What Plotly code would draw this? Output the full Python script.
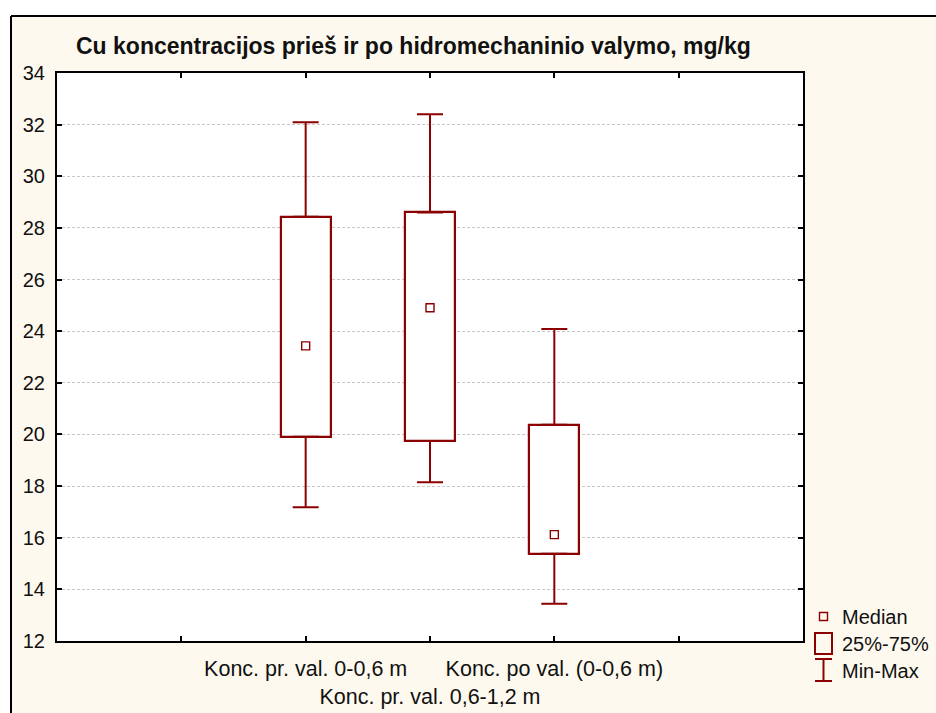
import plotly.graph_objects as go

# Summary statistics per sampling group (mg/kg)
categories = ["Konc. pr. val. 0-0,6 m", "Konc. pr. val. 0,6-1,2 m", "Konc. po val. (0-0,6 m)"]
positions = [2, 3, 4]
minimum = [17.18, 18.15, 13.44]
q1 = [19.91, 19.75, 15.38]
median = [23.43, 24.91, 16.12]
q3 = [28.43, 28.60, 20.38]
maximum = [32.09, 32.40, 24.08]

y_ticks = list(range(12, 35, 2))
x_ticks = [1, 2, 3, 4, 5]
x_ticktext = ["", categories[0], "<br>" + categories[1], categories[2], ""]
legend_labels = ["Median", "25%-75%", "Min-Max"]
title = "Cu koncentracijos prieš ir po hidromechaninio valymo, mg/kg"

RED = "#8B0000"
CREAM = "#FEF9EE"
FONT = "Liberation Sans, Arial, sans-serif"

W, H = 936, 713
ML, MR, MT, MB = 57, 133, 73, 72
PW, PH = W - ML - MR, H - MT - MB


def px_x(p):
    return (p - ML) / PW


def px_y(p):
    return (H - MB - p) / PH


fig = go.Figure()

# 25%-75% boxes
fig.add_trace(go.Bar(
    x=positions,
    y=[b - a for a, b in zip(q1, q3)],
    base=q1,
    width=0.4,
    marker=dict(color="white", line=dict(color=RED, width=2.2)),
    showlegend=False,
    hoverinfo="skip",
))

# upper whiskers (q3 -> max)
fig.add_trace(go.Scatter(
    x=positions, y=q3, mode="markers",
    marker=dict(size=1, color="rgba(0,0,0,0)"),
    error_y=dict(type="data", symmetric=False,
                 array=[m - q for m, q in zip(maximum, q3)],
                 arrayminus=[0, 0, 0],
                 color=RED, thickness=2, width=13),
    showlegend=False, hoverinfo="skip",
))

# lower whiskers (min -> q1)
fig.add_trace(go.Scatter(
    x=positions, y=q1, mode="markers",
    marker=dict(size=1, color="rgba(0,0,0,0)"),
    error_y=dict(type="data", symmetric=False,
                 array=[0, 0, 0],
                 arrayminus=[q - m for m, q in zip(minimum, q1)],
                 color=RED, thickness=2, width=13),
    showlegend=False, hoverinfo="skip",
))

# medians
fig.add_trace(go.Scatter(
    x=positions, y=median, mode="markers",
    marker=dict(symbol="square-open", size=8, color=RED, line=dict(width=1.4, color=RED)),
    showlegend=False,
))

shapes = []
# white surround and black frame of the chart panel
shapes.append(dict(type="rect", xref="paper", yref="paper", layer="above",
                   x0=-0.3, x1=1.5, y0=px_y(16), y1=px_y(-20),
                   fillcolor="white", line=dict(width=0)))
shapes.append(dict(type="rect", xref="paper", yref="paper", layer="above",
                   x0=px_x(-20), x1=px_x(11), y0=px_y(740), y1=px_y(-20),
                   fillcolor="white", line=dict(width=0)))
shapes.append(dict(type="line", xref="paper", yref="paper", layer="above",
                   x0=px_x(11), x1=px_x(960), y0=px_y(16), y1=px_y(16),
                   line=dict(color="black", width=2)))
shapes.append(dict(type="line", xref="paper", yref="paper", layer="above",
                   x0=px_x(11), x1=px_x(11), y0=px_y(16), y1=px_y(740),
                   line=dict(color="black", width=2)))

# legend glyphs
lx = 823.5
# median square
shapes.append(dict(type="rect", xref="paper", yref="paper",
                   x0=px_x(lx - 4), x1=px_x(lx + 4), y0=px_y(620.5), y1=px_y(612.5),
                   line=dict(color=RED, width=1.4), fillcolor="rgba(0,0,0,0)"))
# box
shapes.append(dict(type="rect", xref="paper", yref="paper",
                   x0=px_x(815), x1=px_x(832), y0=px_y(654), y1=px_y(633),
                   line=dict(color=RED, width=2), fillcolor="rgba(0,0,0,0)"))
# min-max I-beam
for seg in [((lx, 659), (lx, 681)), ((815, 659), (832, 659)), ((815, 681), (832, 681))]:
    (xa, ya), (xb, yb) = seg
    shapes.append(dict(type="line", xref="paper", yref="paper",
                       x0=px_x(xa), x1=px_x(xb), y0=px_y(ya), y1=px_y(yb),
                       line=dict(color=RED, width=2)))

annotations = [
    dict(text="<b>" + title + "</b>", xref="paper", yref="paper",
         x=px_x(413), y=px_y(46), xanchor="center", yanchor="middle",
         showarrow=False, font=dict(family=FONT, size=23, color="#111")),
]
for lab, yy in zip(legend_labels, [616.5, 643.5, 670.5]):
    annotations.append(dict(text=lab, xref="paper", yref="paper",
                            x=px_x(840), y=px_y(yy), xanchor="left", yanchor="middle",
                            showarrow=False, font=dict(family=FONT, size=20, color="#111")))

fig.update_layout(
    width=W, height=H,
    margin=dict(l=ML, r=MR, t=MT, b=MB, autoexpand=False),
    paper_bgcolor=CREAM,
    plot_bgcolor="white",
    shapes=shapes,
    annotations=annotations,
    showlegend=False,
    bargap=0,
)

fig.update_xaxes(
    range=[0, 6], tickmode="array", tickvals=x_ticks, ticktext=x_ticktext,
    tickangle=0, automargin=False,
    showgrid=False, zeroline=False,
    showline=True, linecolor="black", linewidth=2, mirror="ticks",
    ticks="inside", ticklen=5, tickwidth=2, tickcolor="black",
    tickfont=dict(family=FONT, size=21.5, color="#111"),
    ticklabelstandoff=7,
)
fig.update_yaxes(
    range=[12, 34], tickmode="array", tickvals=y_ticks, automargin=False,
    showgrid=True, gridcolor="#c8c8c8", gridwidth=1, griddash="3px,2px",
    zeroline=False,
    showline=True, linecolor="black", linewidth=2, mirror="ticks",
    ticks="inside", ticklen=5, tickwidth=2, tickcolor="black",
    tickfont=dict(family=FONT, size=20, color="#111"),
    ticklabelstandoff=6,
)

fig.write_html("out.html")
